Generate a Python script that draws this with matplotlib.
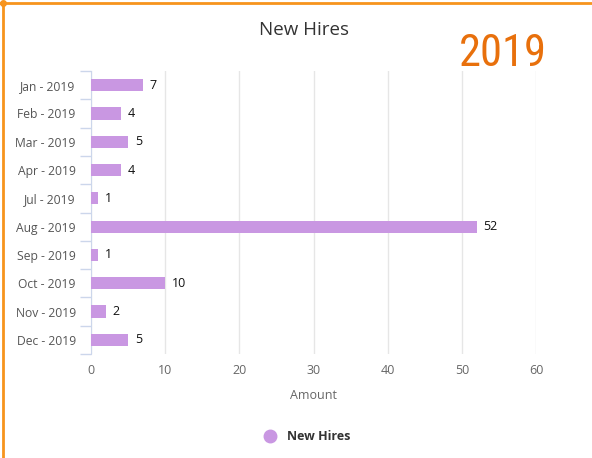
import matplotlib
matplotlib.use("Agg")
import matplotlib.pyplot as plt
from matplotlib.lines import Line2D
import numpy as np

categories = ["Jan - 2019", "Feb - 2019", "Mar - 2019", "Apr - 2019", "Jul - 2019",
              "Aug - 2019", "Sep - 2019", "Oct - 2019", "Nov - 2019", "Dec - 2019"]
values = [7, 4, 5, 4, 1, 52, 1, 10, 2, 5]
x_ticks = [0, 10, 20, 30, 40, 50, 60]

plt.rcParams['font.family'] = ['Open Sans', 'DejaVu Sans']

W, H = 592, 458
fig = plt.figure(figsize=(W/100, H/100), dpi=100)
ax = fig.add_axes([91/W, (H-354)/H, (536-91)/W, (354-71)/H])

bar_color = "#c997e2"
y = np.arange(len(categories))
ax.barh(y, values, height=0.43, color=bar_color, zorder=3)
for yi, v in zip(y, values):
    ax.annotate(str(v), (v, yi), xytext=(5, 0), textcoords="offset points",
                va="center", ha="left", fontsize=9, color="#111111")

ax.set_ylim(len(categories) - 0.5, -0.5)
ax.set_xlim(0, 60)
ax.set_xticks(x_ticks)
ax.set_yticks(y)
ax.set_yticklabels(categories, fontsize=8.7, color="#555555")
ax.set_yticks(np.arange(-0.5, len(categories), 1), minor=True)
ax.tick_params(axis="y", which="major", length=0, pad=11)
ax.tick_params(axis="y", which="minor", length=8, color="#ccd6eb", width=1)
ax.tick_params(axis="x", length=0, labelsize=9, labelcolor="#666666", pad=7)
ax.grid(axis="x", color="#e6e6e6", linewidth=1, zorder=0)
for s in ["top", "right", "bottom"]:
    ax.spines[s].set_visible(False)
ax.spines["left"].set_color("#ccd6eb")
ax.set_xlabel("Amount", fontsize=9, color="#666666", labelpad=9)

fig.text(304/W, 1 - 30/H, "New Hires", ha="center", va="center", fontsize=13.5, color="#333333")
fig.text(503/W, 1 - 54/H, "2019", ha="center", va="center", fontsize=32, fontstretch="condensed",
         color="#e8700c",
         family=["Roboto Condensed", "Open Sans Condensed", "Liberation Sans Narrow", "DejaVu Sans Condensed", "Roboto"])

handles = [Line2D([], [], marker="o", linestyle="none", markersize=9,
                  markerfacecolor=bar_color, markeredgecolor=bar_color)]
leg = fig.legend(handles, ["New Hires"], loc="center", bbox_to_anchor=(304/W, 1 - 437/H),
                 frameon=False, handletextpad=0.3, prop={"size": 9, "weight": "bold"})
for t in leg.get_texts():
    t.set_color("#333333")

# orange border lines
fig.add_artist(Line2D([0, 1], [1 - 2.5/H, 1 - 2.5/H], color="#f7941d", linewidth=2, transform=fig.transFigure))
fig.add_artist(Line2D([2.5/W, 2.5/W], [0, 1 - 2.5/H], color="#f7941d", linewidth=2, transform=fig.transFigure))
fig.add_artist(Line2D([3/W], [1 - 3/H], marker="o", markersize=4, color="#f7941d", transform=fig.transFigure))

fig.savefig("out.png", dpi=100)
